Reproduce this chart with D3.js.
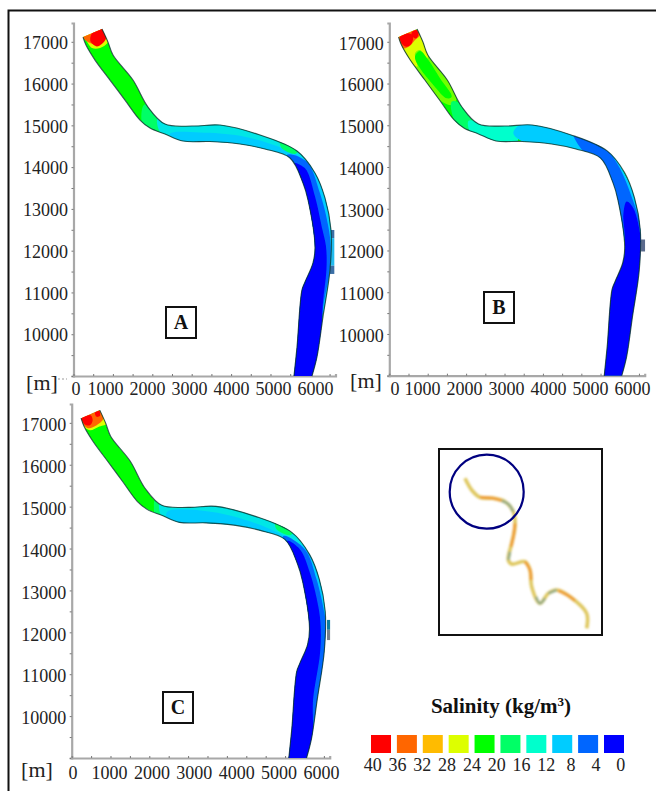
<!DOCTYPE html>
<html>
<head>
<meta charset="utf-8">
<script src="https://cdnjs.cloudflare.com/ajax/libs/d3/7.8.5/d3.min.js"></script>
<style>
  body { margin: 0; background: #fff; }
  text { font-family: "Liberation Serif", serif; fill: #222; }
</style>
</head>
<body>
<div id="chart"></div>
<script>
// legend levels and colours
var levels = [40, 36, 32, 28, 24, 20, 16, 12, 8, 4, 0];
var swatchLevels = [40, 36, 32, 28, 24, 20, 16, 12, 8, 0];
var levelColors = ["#ff0000", "#ff6600", "#ffbb00", "#ddff00", "#00ff00", "#00ff66", "#00ffcc", "#00ccff", "#0066ff", "#0033ff", "#0000ff"];

// axis ticks
var xLabels = [0, 1000, 2000, 3000, 4000, 5000, 6000];
var yLabels = [10000, 11000, 12000, 13000, 14000, 15000, 16000, 17000];
var xMinor = [0, 500, 1000, 1500, 2000, 2500, 3000, 3500, 4000, 4500, 5000, 5500, 6000, 6500];
var yMinor = [9000, 9500, 10000, 10500, 11000, 11500, 12000, 12500, 13000, 13500, 14000, 14500, 15000, 15500, 16000, 16500, 17000];

// river banks in metres, same mesh in all three runs
var bankLeft = [[241,17112],[317,16921],[546,16562],[926,16084],[1307,15605],[1688,15127],[1942,14935],[2322,14792],[2779,14624],[3464,14612],[4226,14553],[4860,14433],[5495,14218],[5825,13620],[5952,13213],[6129,12089],[6079,11706],[5876,11252],[5799,11060],[5673,9696],[5596,9000]];
var bankRight = [[6053,9000],[6180,9457],[6332,10416],[6510,11541],[6535,12498],[6383,13263],[6129,13861],[5673,14385],[4734,14768],[3718,15007],[3033,14983],[2322,15031],[1891,15438],[1510,16084],[1003,16682],[876,16993],[723,17304]];

// run A salinity zones
var zoneA20 = [[1800,15500],[2300,15200],[2450,14600],[2050,14700],[1750,15000]];
var zoneA14 = [[2150,15200],[5000,15200],[5800,14500],[6800,13400],[6400,13000],[5500,14000],[3000,14300],[2350,14600]];
var zoneA12 = [[2449,14800],[3211,14830],[4226,14750],[4987,14560],[5673,14300],[6300,13800],[6700,12600],[6700,11000],[6300,10500],[5800,11000],[5800,13000],[5300,14000],[3000,14300],[2500,14600]];
var zoneA20b = [[5250,14650],[5720,14450],[5640,14320],[5280,14460]];
var zoneA8 = [[5411,14290],[5918,14131],[6257,13374],[6468,12577],[6527,12098],[6494,11461],[6341,10664],[6172,8950],[5495,8950],[5495,9787],[5707,11142],[5900,12098],[5700,13214]];
var zoneA0 = [[5580,14091],[5876,13971],[6130,13294],[6299,12577],[6409,12098],[6420,11541],[6330,10744],[6260,9468],[6150,8950],[5495,8950],[5495,9787],[5707,11142],[6003,12098],[5834,13214]];
var zoneA28 = [[317,17041],[470,16849],[673,16849],[876,16993],[876,17328],[216,17184]];
var zoneA36 = [[241,17112],[419,16969],[622,16945],[825,17065],[774,17328],[419,17232]];
var zoneA40 = [[480,17220],[430,17017],[596,16890],[790,17020],[830,17240],[690,17320]];

// run B salinity zones
var zoneB26 = [[365,16921],[1146,16921],[1494,16283],[1754,15646],[1624,15486],[1233,15646],[799,16124],[452,16602]];
var zoneB28 = [[191,17160],[495,16562],[730,16403],[669,16722],[799,16801],[990,16602],[929,17080],[712,17280]];
var zoneB24 = [[669,16642],[799,16777],[1016,16562],[1320,16124],[1624,15686],[1494,15646],[1146,15965],[799,16363]];
var zoneB36 = [[209,17096],[365,16841],[539,16905],[669,17040],[799,17160],[695,17296],[408,17200]];
var zoneB40a = [[278,17120],[322,16961],[452,16881],[582,16961],[608,17160],[408,17200]];
var zoneB40b = [[582,17224],[608,17120],[695,17080],[756,17160],[712,17280]];
var zoneB20 = [[1624,15566],[1928,15486],[2362,15008],[2188,14769],[1754,15008]];
var zoneB16 = [[2058,15100],[2362,15100],[3316,15100],[3273,14500],[2709,14500],[2188,14700]];
var zoneB12 = [[3230,14809],[3577,15100],[4792,14900],[5660,14500],[6615,12456],[6181,12217],[5500,13800],[5000,14000],[3924,14400]];
var zoneB8 = [[4792,14800],[5704,14369],[6355,13173],[6572,12217],[6138,12217],[5964,13094],[5530,14170],[5140,14289]];
var zoneB0 = [[6181,13173],[6355,13014],[6555,12217],[6528,11659],[6268,9667],[6008,8910],[5487,8910],[5704,10623],[5834,11260],[6051,11659],[6138,12217],[6094,12855]];

// run C salinity zones
var zoneC20 = [[2150,15200],[2280,15200],[2400,14600],[2200,14600]];
var zoneC14 = [[2300,15200],[5000,15200],[5800,14500],[6800,13400],[6500,12900],[5500,14000],[3000,14300],[2400,14600]];
var zoneC12 = [[2455,14868],[3484,14892],[4594,14651],[5546,14267],[6300,13800],[6700,12600],[6700,11000],[6300,10500],[5800,11000],[5800,13000],[5300,14000],[3000,14300],[2500,14600]];
var zoneC20b = [[5250,14650],[5720,14450],[5640,14320],[5280,14460]];
var zoneC8 = [[5455,14299],[6013,13979],[6314,13258],[6528,12377],[6554,12136],[6528,11576],[6357,10454],[6185,8972],[5497,8972],[5583,9814],[5755,11175],[6013,11576],[6099,12216],[5884,13258]];
var zoneC0 = [[5558,14179],[5884,13979],[6142,13418],[6357,12617],[6417,12136],[6400,11496],[6228,10454],[6099,8972],[5497,8972],[5583,9814],[5755,11175],[6013,11576],[6099,12216],[5884,13258]];
var zoneC28 = [[300,16943],[471,16823],[686,16903],[901,16983],[772,17224],[643,17023]];
var zoneC36 = [[214,17103],[403,16879],[643,16943],[815,17103],[712,17304],[300,17167]];
var zoneC40a = [[257,17103],[342,16959],[471,16943],[540,17063],[488,17183],[300,17143]];
var zoneC40b = [[600,17248],[643,17143],[729,17167],[712,17280]];

// side inflow at the outer bank: x0, x1, y0, y1, colour
var inflowA = [[6510,6620,12495,12300,"#3a6ea5"],[6510,6620,12300,11640,"#22bbee"],[6510,6620,11640,11443,"#3a6ea5"]];
var inflowB = [[6555,6659,12263,11976,"#5a6b8c"]];
var inflowC = [[6580,6660,12296,12060,"#0f7fa0"],[6580,6660,12060,11815,"#77808c"]];

// location map, river course and the coloured reaches
var mapCourse = [[105,115],[125,150],[150,172],[190,175],[225,185],[250,215],[255,260],[245,310],[235,360],[245,372],[285,365],[300,390],[305,440],[330,490],[355,460],[380,450],[420,470],[470,520],[470,565]];
var mapOrange1 = [[255,250],[250,290],[243,320]];
var mapOrange2 = [[285,365],[300,390],[303,420]];
var mapOrange3 = [[385,452],[420,470],[435,482]];
var mapOrange4 = [[150,172],[190,175],[215,182]];
var mapGrey1 = [[215,182],[235,192],[250,215]];
var mapGrey2 = [[240,335],[235,360]];
var mapGrey3 = [[318,470],[330,490],[345,475]];
var mapGrey4 = [[355,460],[380,450]];

// panels
var panels = [
  { name: "A", xRange: [73.5, 335.5], yRange: [376, 23], yLabelDy: 1, labelY: 382, labelX: [105, 315], zeroX: 76, mX: 42, mY: 390,
    box: [166, 307], inflow: inflowA,
    zones: [[20, zoneA20], [14, zoneA14], [12, zoneA12], [20, zoneA20b], [8, zoneA8], [0, zoneA0], [28, zoneA28], [36, zoneA36], [40, zoneA40]] },
  { name: "B", xRange: [389.3, 644.7], yRange: [375.7, 23], yLabelDy: 1.5, labelY: 382, labelX: [422, 632], zeroX: 395, mX: 366, mY: 388,
    box: [484, 292], inflow: inflowB,
    zones: [[26, zoneB26], [28, zoneB28], [24, zoneB24], [20, zoneB20], [16, zoneB16], [12, zoneB12], [8, zoneB8], [0, zoneB0], [36, zoneB36], [40, zoneB40a], [40, zoneB40b]] },
  { name: "C", xRange: [71.7, 329.7], yRange: [758, 404], yLabelDy: 2, labelY: 766, labelX: [109, 321], zeroX: 73, mX: 37, mY: 777,
    box: [163, 692], inflow: inflowC,
    zones: [[20, zoneC20], [14, zoneC14], [12, zoneC12], [20, zoneC20b], [8, zoneC8], [0, zoneC0], [28, zoneC28], [36, zoneC36], [40, zoneC40a], [40, zoneC40b]] }
];

var svg = d3.select("#chart")
  .append("svg")
  .attr("width", 656)
  .attr("height", 791)
  .style("display", "block");

var defs = svg.append("defs");
defs.append("filter").attr("id", "soft")
  .append("feGaussianBlur").attr("stdDeviation", 0.55);
defs.append("filter").attr("id", "softer")
  .append("feGaussianBlur").attr("stdDeviation", 0.8);

// colour scale built from the legend
var salinity = d3.scaleLinear().domain(levels).range(levelColors);

// outer frame, only top and left show in the picture
svg.append("path")
  .attr("d", "M8.5,791V10.5H656")
  .attr("fill", "none")
  .attr("stroke", "#111")
  .attr("stroke-width", 2);

panels.forEach(function (p) {
  var x = d3.scaleLinear().domain([0, 6650]).range(p.xRange);
  var y = d3.scaleLinear().domain([9000, 17450]).range(p.yRange);

  var g = svg.append("g");

  // minor ticks and axis lines
  var yAxis = g.append("g")
    .attr("transform", "translate(" + p.xRange[0] + ",0)")
    .call(d3.axisLeft(y).tickValues(yMinor).tickFormat("").tickSize(2));
  var xAxis = g.append("g")
    .attr("transform", "translate(0," + p.yRange[0] + ")")
    .call(d3.axisTop(x).tickValues(xMinor).tickFormat("").tickSize(2));
  [yAxis, xAxis].forEach(function (a) {
    a.select(".domain").attr("stroke", "#a8a8a8").attr("stroke-width", 2.2);
    a.selectAll(".tick line").attr("stroke", "#777").attr("stroke-width", 1);
  });

  // y labels
  var yText = g.append("g")
    .attr("transform", "translate(" + (p.xRange[0] - 2.5) + "," + p.yLabelDy + ")")
    .call(d3.axisLeft(y).tickValues(yLabels).tickFormat(d3.format("d")).tickSize(0).tickPadding(3));
  yText.select(".domain").remove();
  yText.selectAll("text").style("font-size", "18px").attr("fill", "#222");

  // x labels do not sit on the ticks in the original, they have their own scale
  var xl = d3.scaleLinear().domain([1000, 6000]).range(p.labelX);
  var xText = g.append("g")
    .attr("transform", "translate(0," + p.labelY + ")")
    .call(d3.axisBottom(xl).tickValues(xLabels).tickFormat(d3.format("d")).tickSize(0).tickPadding(0));
  xText.select(".domain").remove();
  xText.selectAll("text").style("font-size", "18px").attr("fill", "#222");
  xText.selectAll(".tick").filter(function (d) { return d === 0; })
    .attr("transform", "translate(" + p.zeroX + ",0)");

  g.append("text")
    .attr("x", p.mX)
    .attr("y", p.mY)
    .attr("text-anchor", "middle")
    .style("font-size", "22px")
    .text("[m]");

  // river: each bank is a smooth line, the two ends stay straight
  var bankLine = d3.line()
    .x(function (d) { return x(d[0]); })
    .y(function (d) { return y(d[1]); })
    .curve(d3.curveCatmullRom.alpha(0.5));
  var zoneLine = d3.line()
    .x(function (d) { return x(d[0]); })
    .y(function (d) { return y(d[1]); })
    .curve(d3.curveCatmullRomClosed.alpha(0.5));
  var riverPath = bankLine(bankLeft) + "L" + bankLine(bankRight).slice(1) + "Z";
  var clipId = "clip" + p.name;
  defs.append("clipPath").attr("id", clipId).append("path").attr("d", riverPath);

  var soft = g.append("g").attr("filter", "url(#soft)");

  soft.selectAll("rect.inflow")
    .data(p.inflow)
    .enter()
    .append("rect")
    .attr("class", "inflow")
    .attr("x", function (d) { return x(d[0]); })
    .attr("width", function (d) { return x(d[1]) - x(d[0]); })
    .attr("y", function (d) { return y(d[2]); })
    .attr("height", function (d) { return y(d[3]) - y(d[2]); })
    .attr("fill", function (d) { return d[4]; });

  var inside = soft.append("g").attr("clip-path", "url(#" + clipId + ")");
  inside.append("path").attr("d", riverPath).attr("fill", salinity(24));
  inside.selectAll("path.zone")
    .data(p.zones)
    .enter()
    .append("path")
    .attr("class", "zone")
    .attr("d", function (d) { return zoneLine(d[1]); })
    .attr("fill", function (d) { return salinity(d[0]); });

  // dark bank lines, open at the bottom of the reach
  soft.selectAll("path.bank")
    .data([bankLeft, bankRight])
    .enter()
    .append("path")
    .attr("class", "bank")
    .attr("d", function (d) { return bankLine(d); })
    .attr("fill", "none")
    .attr("stroke", "#0a3030")
    .attr("stroke-opacity", 0.8)
    .attr("stroke-width", 1.1);

  // letter box
  g.append("rect")
    .attr("x", p.box[0])
    .attr("y", p.box[1])
    .attr("width", 30)
    .attr("height", 31)
    .attr("fill", "#fff")
    .attr("stroke", "#111")
    .attr("stroke-width", 2);
  g.append("text")
    .attr("x", p.box[0] + 15)
    .attr("y", p.box[1] + 22)
    .attr("text-anchor", "middle")
    .style("font-size", "20px")
    .style("font-weight", "bold")
    .style("fill", "#111")
    .text(p.name);
});

// stray dashes next to the [m] of run A
svg.append("line")
  .attr("x1", 58)
  .attr("x2", 67)
  .attr("y1", 379)
  .attr("y2", 379)
  .attr("stroke", "#999")
  .attr("stroke-dasharray", "2,2");

// location map
var mapX = d3.scaleLinear().domain([0, 540]).range([430, 610]);
var mapY = d3.scaleLinear().domain([0, 600]).range([440, 640]);
var mapLine = d3.line()
  .x(function (d) { return mapX(d[0]); })
  .y(function (d) { return mapY(d[1]); })
  .curve(d3.curveCatmullRom.alpha(0.5));

svg.append("rect")
  .attr("x", 439)
  .attr("y", 449)
  .attr("width", 163)
  .attr("height", 186)
  .attr("fill", "#fff")
  .attr("stroke", "#111")
  .attr("stroke-width", 2);

var mapG = svg.append("g").attr("filter", "url(#softer)").attr("fill", "none").attr("stroke-linecap", "butt");
mapG.append("path").attr("d", mapLine(mapCourse)).attr("stroke", "#dfc860").attr("stroke-width", 3.6);
[mapOrange1, mapOrange2, mapOrange3, mapOrange4].forEach(function (r) {
  mapG.append("path").attr("d", mapLine(r)).attr("stroke", "#ee9e38").attr("stroke-width", 3);
});
[mapGrey1, mapGrey2, mapGrey3, mapGrey4].forEach(function (r) {
  mapG.append("path").attr("d", mapLine(r)).attr("stroke", "#94ab84").attr("stroke-width", 2.6);
});

svg.append("circle")
  .attr("cx", 486.7)
  .attr("cy", 491.7)
  .attr("r", 37)
  .attr("fill", "none")
  .attr("stroke", "#000080")
  .attr("stroke-width", 2.2);

// legend
var title = svg.append("text")
  .attr("x", 501)
  .attr("y", 713)
  .attr("text-anchor", "middle")
  .style("font-size", "21px")
  .style("font-weight", "bold")
  .style("fill", "#111");
title.append("tspan").text("Salinity (kg/m");
title.append("tspan").attr("dy", -7).style("font-size", "13px").text("3");
title.append("tspan").attr("dy", 7).text(")");

var swatchX = d3.scalePoint().domain(swatchLevels).range([381, 614]);
svg.selectAll("rect.swatch")
  .data(swatchLevels)
  .enter()
  .append("rect")
  .attr("class", "swatch")
  .attr("x", function (d) { return swatchX(d) - 10; })
  .attr("y", 735)
  .attr("width", 20)
  .attr("height", 18)
  .attr("fill", function (d) { return salinity(d); });

var labelX = d3.scalePoint().domain(levels).range([372.7, 620.7]);
svg.selectAll("text.level")
  .data(levels)
  .enter()
  .append("text")
  .attr("class", "level")
  .attr("x", function (d) { return labelX(d); })
  .attr("y", 771)
  .attr("text-anchor", "middle")
  .style("font-size", "18px")
  .text(function (d) { return d; });
</script>
</body>
</html>
